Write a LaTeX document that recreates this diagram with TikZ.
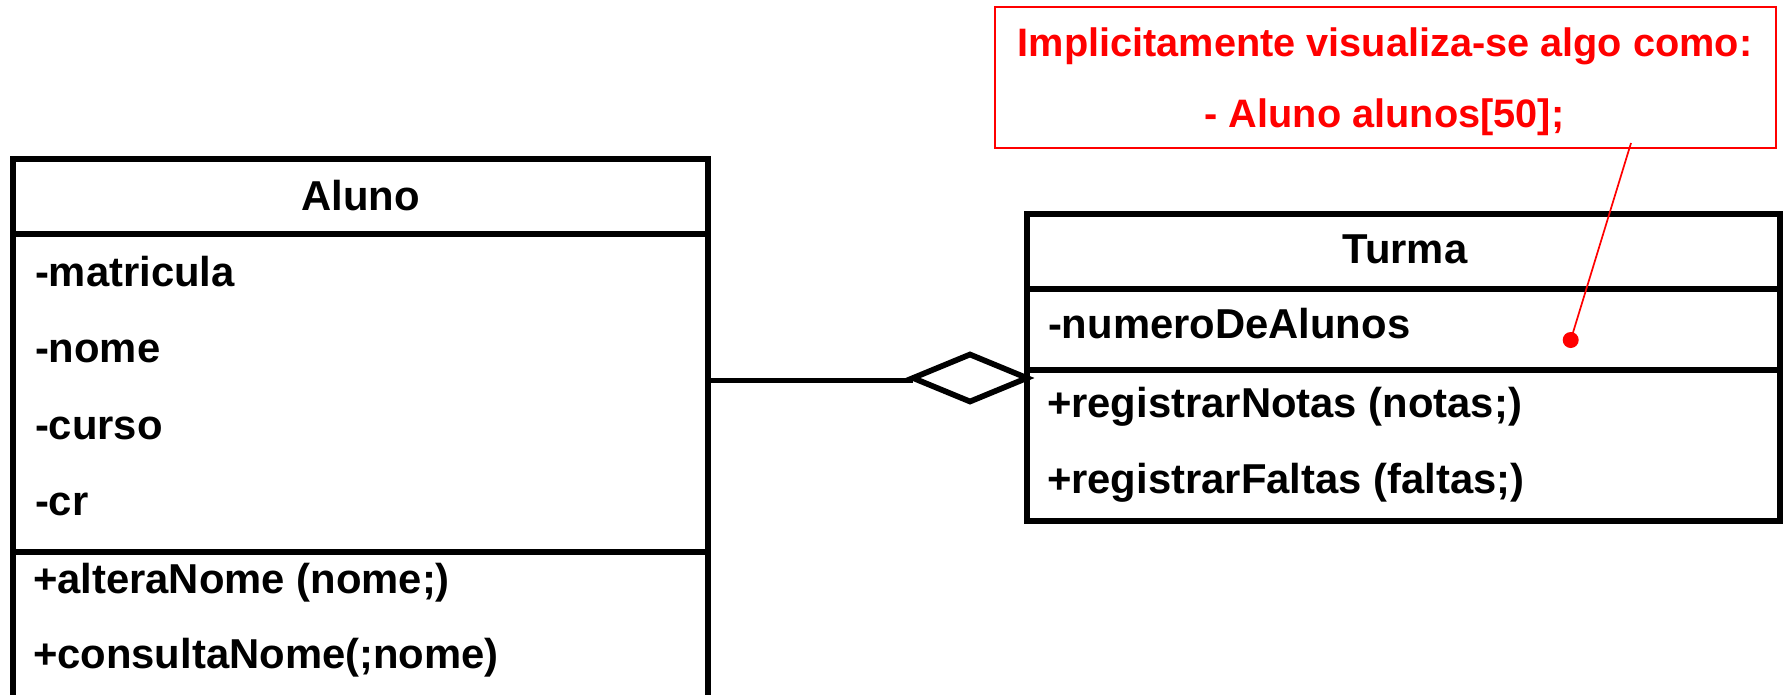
\documentclass[tikz,border=0pt]{standalone}
\usepackage{fontspec}
\setmainfont{Liberation Sans}
\usetikzlibrary{shapes.geometric}
\definecolor{notered}{RGB}{255,0,0}
\begin{document}
\begin{tikzpicture}[x=1pt,y=-1pt,
  umlbox/.style={draw=black, line width=5.7pt, inner sep=0pt, outer sep=0pt, anchor=north west},
  sepline/.style={draw=black, line width=5.7pt},
  txt/.style={font=\fontsize{41.8}{50}\selectfont\bfseries, inner sep=0pt, outer sep=0pt, anchor=base west},
  classtitle/.style={txt, anchor=base},
  notebox/.style={draw=notered, line width=1.7pt, inner sep=0pt, outer sep=0pt, anchor=north west},
  notetxt/.style={font=\fontsize{39.7}{48}\selectfont\bfseries, text=notered, inner sep=0pt, outer sep=0pt, anchor=base},
  aggdiamond/.style={diamond, draw=black, fill=white, line width=5.7pt, inner sep=0pt, outer sep=0pt, minimum width=114pt, minimum height=47pt},
  pointer/.style={draw=notered, line width=1.7pt},
  pointdot/.style={circle, fill=notered, inner sep=0pt, minimum size=16pt}
]
\useasboundingbox (0,0) rectangle (1787,694);
\clip (0,0) rectangle (1787,694);

% Aluno class
\node[umlbox, minimum width=695.3pt, minimum height=570pt] (aluno) at (13,159) {};
\draw[sepline] (aluno.west |- 0,234) -- (aluno.east |- 0,234);
\draw[sepline] (aluno.west |- 0,551.7) -- (aluno.east |- 0,551.7);
\node[classtitle] (alunoname) at (360.6,210) {Aluno};
\node[txt] (a1) at (35,286.5) {-matricula};
\node[txt] (a2) at (35,362.5) {-nome};
\node[txt] (a3) at (35,439) {-curso};
\node[txt] (a4) at (35,515.5) {-cr};
\node[txt] (m1) at (33,593) {+alteraNome (nome;)};
\node[txt] (m2) at (33,668.5) {+consultaNome(;nome)};

% aggregation diamond and connector
\node[aggdiamond] (dia) at (970,378) {};
\draw[sepline] ([yshift=-2.5pt]dia.west) -- ([yshift=-2.5pt]dia.west -| aluno.east);

% Turma class
\node[umlbox, minimum width=753.3pt, minimum height=307.2pt] (turma) at (1026.7,214) {};
\draw[sepline] (turma.west |- 0,289.3) -- (turma.east |- 0,289.3);
\draw[sepline] (turma.west |- 0,370) -- (turma.east |- 0,370);
\node[classtitle] (turmaname) at (1405,263.3) {Turma};
\node[txt] (t1) at (1048,338) {-numeroDeAlunos};
\node[txt] (t2) at (1047,417) {+registrarNotas (notas;)};
\node[txt] (t3) at (1047,493) {+registrarFaltas (faltas;)};

% note
\node[notebox, minimum width=780.7pt, minimum height=140.4pt] (note) at (995,7.3) {};
\node[notetxt] (n1) at (1385,56) {Implicitamente visualiza-se algo como:};
\node[notetxt] (n2) at (1384.5,127.7) {- Aluno alunos[50];};
\coordinate (pstart) at (1631,143);
\node[pointdot] (dot) at (1570.7,340) {};
\draw[pointer] (pstart) -- (dot.center);
\end{tikzpicture}
\end{document}
